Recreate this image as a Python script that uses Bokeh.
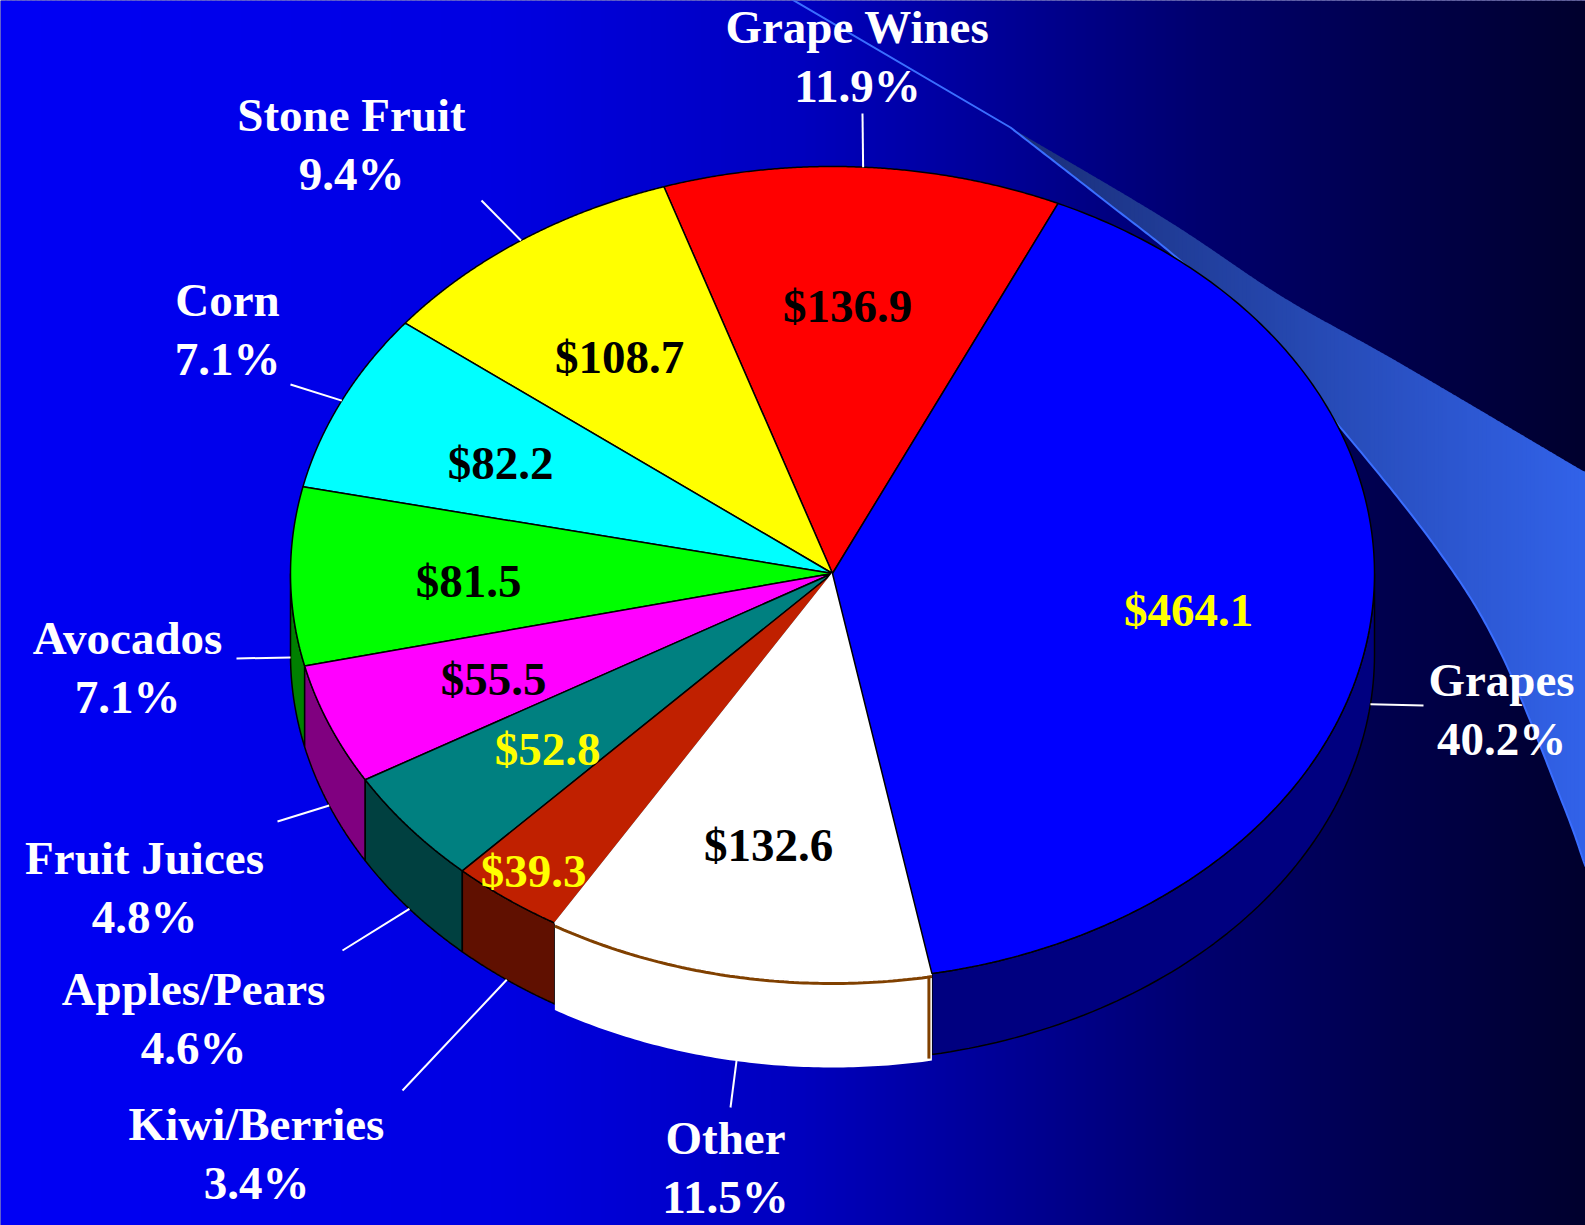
import numpy as np
from bokeh.plotting import figure
from bokeh.models import Range1d
from bokeh.core.properties import value
from bokeh.embed import file_html
from bokeh.resources import INLINE

# ---------------- data ----------------
categories = ["Grapes", "Grape Wines", "Stone Fruit", "Corn", "Avocados",
              "Fruit Juices", "Apples/Pears", "Kiwi/Berries", "Other"]
values = [464.1, 136.9, 108.7, 82.2, 81.5, 55.5, 52.8, 39.3, 132.6]

top_colors = ["#0000FF", "#FF0000", "#FFFF00", "#00FFFF", "#00FF00",
              "#FF00FF", "#008080", "#C02000", "#FFFFFF"]
side_colors = ["#000080", "#800000", "#808000", "#008080", "#008000",
               "#800080", "#004040", "#601000", "#FFFFFF"]
value_text_colors = ["#FFFF00", "#000000", "#000000", "#000000", "#000000",
                     "#000000", "#FFFF00", "#FFFF00", "#000000"]

# ---------------- layout (pixel coordinates of the page) ----------------
W, H = 1585, 1225
CX, CY, A, B, DEPTH = 832, 573, 542, 407, 81
START_GW = 65.4          # parametric angle where "Grape Wines" starts

# outer label anchors: centre x, first-line baseline
label_x = [1501, 857, 351, 227, 127, 144, 193, 256, 725]
label_y = [679, 26, 114, 299, 637, 857, 988, 1123, 1137]
LINE_GAP = 59
# leader outer ends
lead_x = [1423, 862, 481, 290, 236, 277, 342, 402, 730]
lead_y = [705, 113, 200, 384, 658, 821, 950, 1090, 1107]
# value label centres
val_x = [1188, 847, 619, 500, 468, 493, 547, 533, 768]
val_y = [609, 305, 356, 462, 580, 678, 748, 870, 844]

FONT = value("Liberation Serif")
FSIZE = "47px"

p = figure(width=W, height=H, output_backend="svg", toolbar_location=None,
           x_range=Range1d(0, W), y_range=Range1d(H, 0), min_border=0)
p.axis.visible = False
p.grid.visible = False
p.outline_line_color = None
p.background_fill_color = "#000080"
p.border_fill_color = "#000080"

# ---------------- background gradient ----------------
gx = [0, 500, 800, 1000, 1200, 1400, 1585]
gb = [245, 225, 190, 150, 110, 75, 45]
step = 5
lefts = np.arange(0, W, step)
cols = ["#0000%02x" % int(round(np.interp(l + step / 2, gx, gb))) for l in lefts]
p.quad(left=lefts, right=lefts + step + 1, top=0, bottom=H, fill_color=cols, line_color=None)


# ---------------- swoosh ----------------
def catmull(px, py, n=30):
    px = np.asarray(px, float); py = np.asarray(py, float)
    P = np.stack([px, py], 1)
    P = np.vstack([2 * P[0] - P[1], P, 2 * P[-1] - P[-2]])
    out = []
    for k in range(1, len(P) - 2):
        p0, p1, p2, p3 = P[k - 1], P[k], P[k + 1], P[k + 2]
        for s in np.linspace(0, 1, n, endpoint=False):
            out.append(0.5 * ((2 * p1) + (-p0 + p2) * s + (2 * p0 - 5 * p1 + 4 * p2 - p3) * s * s
                              + (-p0 + 3 * p1 - 3 * p2 + p3) * s ** 3))
    out.append(P[-2])
    out = np.array(out)
    return out[:, 0], out[:, 1]


up_x = [1010, 1167, 1283, 1400, 1585]
up_y = [127, 220, 297, 363, 472]
lo_x = [1010, 1100, 1183, 1250, 1333, 1437, 1500, 1563, 1585]
lo_y = [127, 197, 263, 330, 419, 549, 652, 805, 866]
ux, uy = catmull(up_x, up_y)
lx, ly = catmull(lo_x, lo_y)
sxs, sys, scol = [], [], []
c0 = np.array([0x1A, 0x2E, 0x78])
c1 = np.array([0x32, 0x63, 0xEA])
for x0 in np.arange(1010, W, 4):
    x1 = x0 + 5
    xx = [x0, x1, x1, x0]
    yy = [np.interp(x0, ux, uy), np.interp(x1, ux, uy),
          np.interp(x1, lx, ly), np.interp(x0, lx, ly)]
    f = (x0 - 1010) / (W - 1010)
    c = (c0 + (c1 - c0) * f).astype(int)
    sxs.append(xx); sys.append(yy); scol.append("#%02x%02x%02x" % tuple(c))
p.patches(sxs, sys, fill_color=scol, line_color=None)
p.line([790] + list(lx), [-2] + list(ly), line_color="#3A6EFF", line_width=2)

# ---------------- pie geometry ----------------
vals = np.array(values)
total = vals.sum()
frac = vals / total
t_start = START_GW - 360 * frac[0]
t1 = t_start + 360 * np.concatenate([[0], np.cumsum(frac)[:-1]])
t2 = t1 + 360 * frac


def ex(t):
    return CX + A * np.cos(np.radians(t))


def ey(t):
    return CY - B * np.sin(np.radians(t))


def visible_ranges(a, b):
    out = []
    for k in range(-1, 3):
        lo, hi = 180 + 360 * k, 360 + 360 * k
        s, e = max(a, lo), min(b, hi)
        if e > s:
            out.append((s, e))
    return out


# sides
for i in range(len(vals)):
    for (s, e) in visible_ranges(t1[i], t2[i]):
        d = DEPTH + (6 if categories[i] == "Other" else 0)
        tt = np.linspace(s, e, 80)
        xs = list(ex(tt)) + list(ex(tt[::-1]))
        ys = list(ey(tt)) + list(ey(tt[::-1]) + d)
        if categories[i] == "Other":
            p.patch(xs, ys, fill_color=side_colors[i], line_color=None)
            p.line(ex(tt), ey(tt) + 3, line_color="#804000", line_width=3)
            p.line([ex(e) - 3, ex(e) - 3], [ey(e) + 3, ey(e) + d - 2],
                   line_color="#804000", line_width=3)
        else:
            p.patch(xs, ys, fill_color=side_colors[i], line_color="black", line_width=1.5)

# tops (Other before Grapes so the Grapes border stays black)
order = [1, 2, 3, 4, 5, 6, 7, 8, 0]
for i in order:
    tt = np.linspace(t1[i], t2[i], 200)
    xs = [CX] + list(ex(tt))
    ys = [CY] + list(ey(tt))
    lc = "white" if categories[i] == "Other" else "black"
    p.patch(xs, ys, fill_color=top_colors[i], line_color=lc, line_width=1.5)

# ---------------- value labels ----------------
p.text(x=val_x, y=val_y, text=["$%.1f" % v for v in values], text_color=value_text_colors,
       text_font=FONT, text_font_style="bold", text_font_size=FSIZE,
       text_align="center", text_baseline="middle")

# ---------------- outer labels ----------------
pct = ["%.1f%%" % (100 * f) for f in frac]
p.text(x=label_x, y=label_y, text=categories, text_color="white",
       text_font=FONT, text_font_style="bold", text_font_size=FSIZE,
       text_align="center", text_baseline="alphabetic")
p.text(x=label_x, y=[y + LINE_GAP for y in label_y], text=pct, text_color="white",
       text_font=FONT, text_font_style="bold", text_font_size=FSIZE,
       text_align="center", text_baseline="alphabetic")

# leader lines: from slice mid-angle on the rim to the label
mid = (t1 + t2) / 2
lx0 = ex(mid)
ly0 = ey(mid) + np.where(np.sin(np.radians(mid)) < 0, DEPTH, 0)
p.segment(x0=lx0, y0=ly0, x1=lead_x, y1=lead_y, line_color="white", line_width=2)

open("out.html", "w").write(file_html(p, INLINE))
